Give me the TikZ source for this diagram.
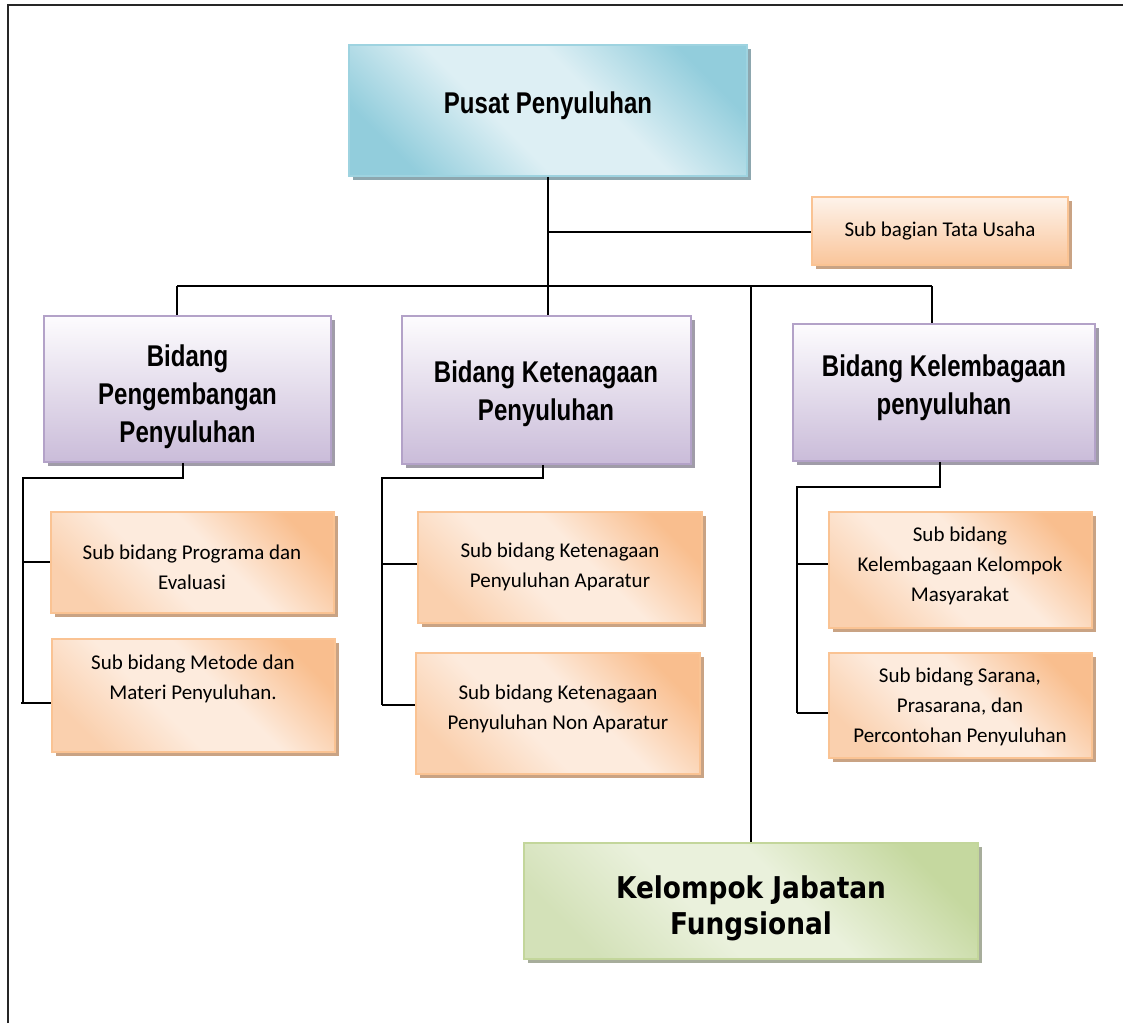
\documentclass[tikz,border=0pt]{standalone}
\usepackage{fontspec}
\usetikzlibrary{shadows}
\newfontfamily\headfont[FakeStretch=0.8]{Liberation Sans}
\newfontfamily\subfont{Carlito}
\newfontfamily\kfont[FakeStretch=0.88]{DejaVu Sans}
\definecolor{aquaD}{HTML}{92CDDC}
\definecolor{aquaL}{HTML}{DDEFF4}
\definecolor{aquaB}{HTML}{9ED3E0}
\definecolor{aquaS}{HTML}{8DA7AF}
\definecolor{purT}{HTML}{FDFCFE}
\definecolor{purB}{HTML}{CABCD9}
\definecolor{purE}{HTML}{B3A2C8}
\definecolor{purS}{HTML}{A09CA8}
\definecolor{orD}{HTML}{F9BE8E}
\definecolor{orM}{HTML}{FAD0AE}
\definecolor{orL}{HTML}{FDEBDD}
\definecolor{orE}{HTML}{FAC393}
\definecolor{orS}{HTML}{C9A384}
\definecolor{grD}{HTML}{C5D89F}
\definecolor{grM}{HTML}{D3E1B8}
\definecolor{grL}{HTML}{EAF1DC}
\definecolor{grE}{HTML}{C3D69B}
\definecolor{grS}{HTML}{A7AD9B}
\pgfdeclareverticalshading{aquadiag}{100bp}{color(0bp)=(aquaD); color(24bp)=(aquaD); color(42bp)=(aquaL); color(58bp)=(aquaL); color(76bp)=(aquaD); color(100bp)=(aquaD)}
\pgfdeclareverticalshading{ordiag}{100bp}{color(0bp)=(orM); color(24bp)=(orM); color(42bp)=(orL); color(56bp)=(orL); color(76bp)=(orD); color(100bp)=(orD)}
\pgfdeclareverticalshading{grdiag}{100bp}{color(0bp)=(grM); color(24bp)=(grM); color(42bp)=(grL); color(56bp)=(grL); color(76bp)=(grD); color(100bp)=(grD)}
\begin{document}
\begin{tikzpicture}[x=1pt,y=-1pt,
  conn/.style={line width=2pt, black},
  frameline/.style={line width=2.6pt, black!85},
  box/.style={rectangle, inner sep=0pt, line width=1.5pt},
  pusatbox/.style={box, draw=aquaB, shading=aquadiag, shading angle=-45,
    general shadow={fill=aquaS, shadow xshift=4pt, shadow yshift=-4pt}},
  bidbox/.style={box, draw=purE, top color=purT, bottom color=purB,
    general shadow={fill=purS, shadow xshift=4pt, shadow yshift=-4pt}},
  subbox/.style={box, draw=orE, shading=ordiag, shading angle=-45,
    general shadow={fill=orS, shadow xshift=4pt, shadow yshift=-4pt}},
  tubox/.style={box, draw=orE, top color=orL!60!white, bottom color=orD!85!orL,
    general shadow={fill=orS, shadow xshift=4pt, shadow yshift=-4pt}},
  grbox/.style={box, draw=grE, shading=grdiag, shading angle=-45,
    general shadow={fill=grS, shadow xshift=4pt, shadow yshift=-4pt}},
  headtxt/.style={inner sep=0pt, align=center, font=\headfont\bfseries\fontsize{30}{38}\selectfont},
  subtxt/.style={inner sep=0pt, align=center, font=\subfont\fontsize{21}{30}\selectfont},
  ktxt/.style={inner sep=0pt, align=center, font=\kfont\bfseries\fontsize{30}{36}\selectfont},
]
\useasboundingbox (0,0) rectangle (1123,1023);
\draw[frameline] (8,1023) -- (8,5) -- (1123,5);

% boxes
\node[pusatbox, minimum width=398pt, minimum height=131pt] (pusat) at (548,110.5) {};
\node[tubox, minimum width=256pt, minimum height=68pt] (tata) at (940,231) {};
\node[bidbox, minimum width=287pt, minimum height=146pt] (b1) at (187.5,389) {};
\node[bidbox, minimum width=289pt, minimum height=148pt] (b2) at (546.5,390) {};
\node[bidbox, minimum width=302pt, minimum height=137pt] (b3) at (944,392.5) {};
\node[subbox, minimum width=283pt, minimum height=101pt] (s11) at (192.5,562.5) {};
\node[subbox, minimum width=283pt, minimum height=113pt] (s12) at (193.5,695.5) {};
\node[subbox, minimum width=284pt, minimum height=111pt] (s21) at (560,567.5) {};
\node[subbox, minimum width=284pt, minimum height=121pt] (s22) at (558,713.5) {};
\node[subbox, minimum width=263pt, minimum height=116pt] (s31) at (960.5,570) {};
\node[subbox, minimum width=263pt, minimum height=105pt] (s32) at (960.5,705.5) {};
\node[grbox, minimum width=454pt, minimum height=116pt] (k) at (751,901) {};

% texts
\node[headtxt] (tpusat) at (548,106) {Pusat Penyuluhan};
\node[subtxt] (ttata) at (940,231) {Sub bagian Tata Usaha};
\node[headtxt] (tb1) at (187.5,397) {Bidang\\Pengembangan\\Penyuluhan};
\node[headtxt] (tb2) at (546,394) {Bidang Ketenagaan\\Penyuluhan};
\node[headtxt] (tb3) at (944,388) {Bidang Kelembagaan\\penyuluhan};
\node[subtxt] (ts11) at (192,567) {Sub bidang Programa dan\\Evaluasi};
\node[subtxt] (ts12) at (193,679) {Sub bidang Metode dan\\Materi Penyuluhan.};
\node[subtxt] (ts21) at (560,567) {Sub bidang Ketenagaan\\Penyuluhan Aparatur};
\node[subtxt] (ts22) at (558,709) {Sub bidang Ketenagaan\\Penyuluhan Non Aparatur};
\node[subtxt] (ts31) at (960,566) {Sub bidang\\Kelembagaan Kelompok\\Masyarakat};
\node[subtxt] (ts32) at (960,707) {Sub bidang Sarana,\\Prasarana, dan\\Percontohan Penyuluhan};
\node[ktxt] (tk) at (751,908) {Kelompok Jabatan\\Fungsional};

% connectors
\coordinate (busL) at (177,286);
\coordinate (busM) at (548,286);
\coordinate (busK) at (751,286);
\coordinate (busR) at (932,286);
\coordinate (tuJ) at (548,232);
\draw[conn] (pusat.south) -- (busM);
\draw[conn] (tuJ) -- (tata.west |- tuJ);
\draw[conn] (busL) -- (busR);
\draw[conn] (busL) -- (busL |- b1.north);
\draw[conn] (busM) -- (busM |- b2.north);
\draw[conn] (busK) -- (k.north);
\draw[conn] (busR) -- (busR |- b3.north);

% left group
\coordinate (l1) at (183,478);
\coordinate (l2) at (23,478);
\coordinate (l3) at (23,703);
\coordinate (l4) at (21,703);
\coordinate (l5) at (23,562);
\draw[conn] (l1 |- b1.south) -- (l1) -- (l2) -- (l3);
\draw[conn] (l5) -- (s11.west |- l5);
\draw[conn] (l4) -- (s12.west |- l4);

% middle group
\coordinate (m1) at (543,478);
\coordinate (m2) at (382,478);
\coordinate (m3) at (382,705);
\coordinate (m5) at (382,564);
\draw[conn] (m1 |- b2.south) -- (m1) -- (m2) -- (m3);
\draw[conn] (m5) -- (s21.west |- m5);
\draw[conn] (m3) -- (s22.west |- m3);

% right group
\coordinate (r1) at (940,487);
\coordinate (r2) at (797,487);
\coordinate (r3) at (797,713);
\coordinate (r5) at (797,564);
\draw[conn] (r1 |- b3.south) -- (r1) -- (r2) -- (r3);
\draw[conn] (r5) -- (s31.west |- r5);
\draw[conn] (r3) -- (s32.west |- r3);
\end{tikzpicture}
\end{document}
